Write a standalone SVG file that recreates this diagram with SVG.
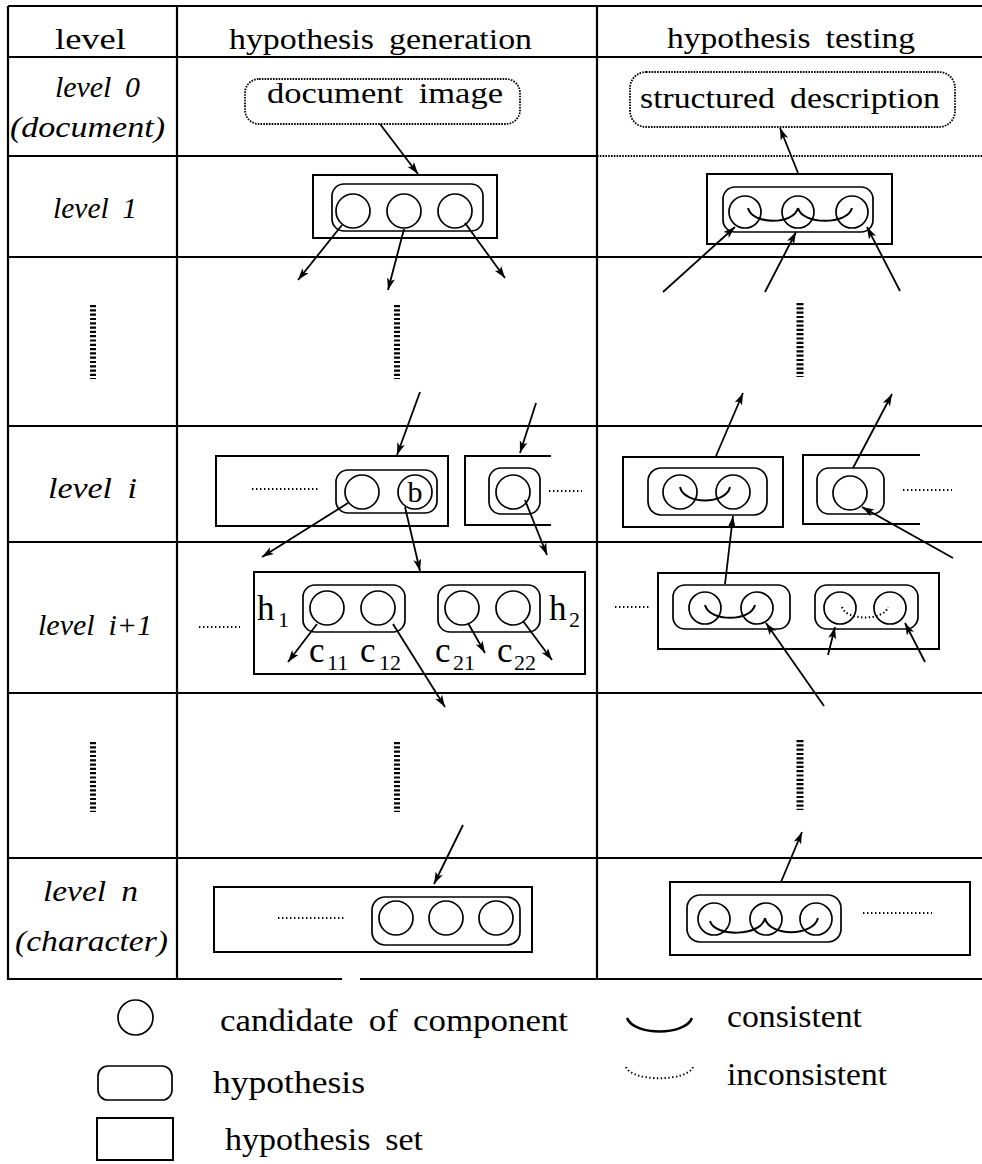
<svg xmlns="http://www.w3.org/2000/svg" width="982" height="1164" viewBox="0 0 982 1164">
  <defs>
    <marker id="ah" markerUnits="userSpaceOnUse" markerWidth="14" markerHeight="10" refX="12" refY="4" orient="auto">
      <path d="M0,0 L12,4 L0,8 L3,4 z" fill="#000"/>
    </marker>
    <style>
      .grid { stroke: #000; stroke-width: 2.2; fill: none; }
      .gridDot { stroke: #000; stroke-width: 2; stroke-dasharray: 1.6 1.2; fill: none; }
      .hset { stroke: #000; stroke-width: 2; fill: none; }
      .hyp { stroke: #000; stroke-width: 1.7; fill: none; }
      .cand { stroke: #000; stroke-width: 1.7; fill: none; }
      .io { stroke: #000; stroke-width: 1.8; stroke-dasharray: 1.6 1.2; fill: none; }
      .ok { stroke: #000; stroke-width: 2; fill: none; }
      .ng { stroke: #000; stroke-width: 2; stroke-dasharray: 1.4 2.4; fill: none; }
      .more { stroke: #000; stroke-width: 1.8; stroke-dasharray: 1.4 2.6; fill: none; }
      .vdots { stroke: #000; stroke-width: 6; stroke-dasharray: 2.2 2.1; fill: none; }
      .arr { stroke: #000; stroke-width: 1.8; fill: none; marker-end: url(#ah); }
    </style>
  </defs>

  <!-- table frame -->
  <g id="table">
    <line class="grid" x1="8" y1="6" x2="982" y2="6"/>
    <line class="grid" x1="8" y1="57" x2="982" y2="57"/>
    <line class="grid" x1="8" y1="156" x2="597" y2="156"/>
    <line class="gridDot" x1="597" y1="156" x2="982" y2="156"/>
    <line class="grid" x1="8" y1="257" x2="982" y2="257"/>
    <line class="grid" x1="8" y1="426" x2="982" y2="426"/>
    <line class="grid" x1="8" y1="542" x2="982" y2="542"/>
    <line class="grid" x1="8" y1="693" x2="982" y2="693"/>
    <line class="grid" x1="8" y1="858" x2="982" y2="858"/>
    <line class="grid" x1="8" y1="979" x2="342" y2="979"/>
    <line class="grid" x1="360" y1="979" x2="982" y2="979"/>
    <line class="grid" x1="8" y1="6" x2="8" y2="980"/>
    <line class="grid" x1="177" y1="6" x2="177" y2="980"/>
    <line class="grid" x1="597" y1="6" x2="597" y2="980"/>
  </g>

  <!-- column headings -->
  <g id="headings">
    <text x="55" y="49" font-family="Liberation Serif" font-size="30" textLength="71" lengthAdjust="spacingAndGlyphs">level</text>
    <text x="229" y="49" font-family="Liberation Serif" font-size="30" word-spacing="6" textLength="303" lengthAdjust="spacingAndGlyphs">hypothesis generation</text>
    <text x="667" y="48" font-family="Liberation Serif" font-size="30" word-spacing="6" textLength="248" lengthAdjust="spacingAndGlyphs">hypothesis testing</text>
  </g>

  <!-- level names -->
  <g id="level-names">
    <text x="55" y="97" font-family="Liberation Serif" font-size="29" font-style="italic" word-spacing="6" textLength="85" lengthAdjust="spacingAndGlyphs">level 0</text>
    <text x="10" y="137" font-family="Liberation Serif" font-size="29" font-style="italic" textLength="155" lengthAdjust="spacingAndGlyphs">(document)</text>
    <text x="53" y="218" font-family="Liberation Serif" font-size="29" font-style="italic" word-spacing="6" textLength="84" lengthAdjust="spacingAndGlyphs">level 1</text>
    <text x="48" y="498" font-family="Liberation Serif" font-size="29" font-style="italic" word-spacing="6" textLength="89" lengthAdjust="spacingAndGlyphs">level i</text>
    <text x="38" y="635" font-family="Liberation Serif" font-size="29" font-style="italic" word-spacing="6" textLength="114" lengthAdjust="spacingAndGlyphs">level i+1</text>
    <text x="43" y="901" font-family="Liberation Serif" font-size="29" font-style="italic" word-spacing="6" textLength="95" lengthAdjust="spacingAndGlyphs">level n</text>
    <text x="15" y="951" font-family="Liberation Serif" font-size="29" font-style="italic" textLength="153" lengthAdjust="spacingAndGlyphs">(character)</text>
  </g>

  <!-- level 0 -->
  <g id="document-image">
    <rect class="io" x="245" y="79" width="275" height="45" rx="14"/>
    <text x="267" y="103" font-family="Liberation Serif" font-size="30" word-spacing="6" textLength="236" lengthAdjust="spacingAndGlyphs">document image</text>
  </g>
  <g id="structured-description">
    <rect class="io" x="630" y="72" width="325" height="55" rx="16"/>
    <text x="640" y="108" font-family="Liberation Serif" font-size="30" word-spacing="6" textLength="300" lengthAdjust="spacingAndGlyphs">structured description</text>
  </g>

  <!-- intermediate levels -->
  <g id="ellipsis-rows">
    <line class="vdots" x1="93" y1="305" x2="93" y2="379"/>
    <line class="vdots" x1="397" y1="305" x2="397" y2="379"/>
    <line class="vdots" x1="800" y1="303" x2="800" y2="377" style="stroke-width:7"/>
    <line class="vdots" x1="93" y1="742" x2="93" y2="812"/>
    <line class="vdots" x1="397" y1="742" x2="397" y2="812"/>
    <line class="vdots" x1="800" y1="740" x2="800" y2="810" style="stroke-width:7"/>
  </g>

  <!-- level 1, generation -->
  <g id="gen-level1">
    <rect class="hset" x="313" y="175" width="184" height="63"/>
    <rect class="hyp" x="332" y="184" width="151" height="47" rx="12"/>
    <circle class="cand" cx="353" cy="211" r="17"/>
    <circle class="cand" cx="404" cy="211" r="17"/>
    <circle class="cand" cx="455" cy="211" r="17"/>
  </g>

  <!-- level 1, testing -->
  <g id="test-level1">
    <rect class="hset" x="707" y="174" width="185" height="70"/>
    <rect class="hyp" x="723" y="187" width="150" height="45" rx="12"/>
    <circle class="cand" cx="745" cy="212" r="16"/>
    <circle class="cand" cx="798" cy="212" r="16"/>
    <circle class="cand" cx="852" cy="212" r="16"/>
    <path class="ok" d="M748,208 C752,225 794,225 798,208"/>
    <path class="ok" d="M798,208 C802,225 848,225 852,208"/>
  </g>

  <!-- level i, generation -->
  <g id="gen-level-i-a">
    <rect class="hset" x="216" y="456" width="232" height="70"/>
    <line class="more" x1="252" y1="489" x2="318" y2="489"/>
    <rect class="hyp" x="336" y="470" width="101" height="43" rx="12"/>
    <circle class="cand" cx="362" cy="492" r="17"/>
    <circle class="cand" cx="415" cy="492" r="17"/>
    <text x="415" y="502" font-family="Liberation Serif" font-size="30" text-anchor="middle">b</text>
  </g>
  <g id="gen-level-i-b">
    <polyline class="hset" points="551,456 465,456 465,525 551,525"/>
    <rect class="hyp" x="489" y="468" width="51" height="46" rx="12"/>
    <circle class="cand" cx="513" cy="492" r="17"/>
    <line class="more" x1="549" y1="491" x2="582" y2="491"/>
  </g>

  <!-- level i, testing -->
  <g id="test-level-i-a">
    <rect class="hset" x="623" y="457" width="160" height="70"/>
    <rect class="hyp" x="648" y="468" width="119" height="47" rx="13"/>
    <circle class="cand" cx="680" cy="492" r="17"/>
    <circle class="cand" cx="733" cy="492" r="17"/>
    <path class="ok" d="M680,487 C684,505 726,505 730,487"/>
  </g>
  <g id="test-level-i-b">
    <polyline class="hset" points="920,455 803,455 803,524 920,524"/>
    <rect class="hyp" x="817" y="468" width="67" height="46" rx="12"/>
    <circle class="cand" cx="850" cy="493" r="17"/>
    <line class="more" x1="903" y1="490" x2="952" y2="490"/>
  </g>

  <!-- level i+1, generation -->
  <g id="gen-level-i1">
    <line class="more" x1="199" y1="627" x2="240" y2="627"/>
    <rect class="hset" x="254" y="572" width="331" height="102"/>
    <rect class="hyp" x="303" y="585" width="102" height="47" rx="12"/>
    <circle class="cand" cx="327" cy="608" r="17"/>
    <circle class="cand" cx="378" cy="608" r="17"/>
    <rect class="hyp" x="438" y="585" width="102" height="47" rx="12"/>
    <circle class="cand" cx="462" cy="608" r="17"/>
    <circle class="cand" cx="513" cy="608" r="17"/>
    <text x="257" y="620" font-family="Liberation Serif" font-size="35">h<tspan x="278" y="627" font-size="22">1</tspan></text>
    <text x="549" y="620" font-family="Liberation Serif" font-size="35">h<tspan x="569" y="627" font-size="22">2</tspan></text>
    <text x="309" y="662" font-family="Liberation Serif" font-size="35">c<tspan x="327" y="670" font-size="22">11</tspan></text>
    <text x="360" y="662" font-family="Liberation Serif" font-size="35">c<tspan x="379" y="670" font-size="22">12</tspan></text>
    <text x="435" y="662" font-family="Liberation Serif" font-size="35">c<tspan x="453" y="670" font-size="22">21</tspan></text>
    <text x="497" y="662" font-family="Liberation Serif" font-size="35">c<tspan x="514" y="670" font-size="22">22</tspan></text>
  </g>

  <!-- level i+1, testing -->
  <g id="test-level-i1">
    <line class="more" x1="615" y1="607" x2="649" y2="607"/>
    <rect class="hset" x="658" y="573" width="281" height="76"/>
    <rect class="hyp" x="673" y="585" width="117" height="44" rx="12"/>
    <circle class="cand" cx="705" cy="608" r="16"/>
    <circle class="cand" cx="757" cy="608" r="16"/>
    <path class="ok" d="M705,605 C709,622 751,622 755,605"/>
    <rect class="hyp" x="815" y="585" width="103" height="44" rx="12"/>
    <circle class="cand" cx="840" cy="608" r="16"/>
    <circle class="cand" cx="890" cy="608" r="16"/>
    <path class="ng" d="M842,607 C846,621 884,621 888,607"/>
  </g>

  <!-- level n, generation -->
  <g id="gen-level-n">
    <rect class="hset" x="214" y="887" width="318" height="65"/>
    <line class="more" x1="278" y1="918" x2="346" y2="918"/>
    <rect class="hyp" x="372" y="897" width="148" height="48" rx="13"/>
    <circle class="cand" cx="396" cy="918" r="17"/>
    <circle class="cand" cx="446" cy="918" r="17"/>
    <circle class="cand" cx="496" cy="918" r="17"/>
  </g>

  <!-- level n, testing -->
  <g id="test-level-n">
    <rect class="hset" x="670" y="882" width="300" height="73"/>
    <rect class="hyp" x="687" y="895" width="154" height="47" rx="13"/>
    <circle class="cand" cx="714" cy="919" r="16"/>
    <circle class="cand" cx="766" cy="919" r="16"/>
    <circle class="cand" cx="816" cy="919" r="16"/>
    <path class="ok" d="M710,921 C714,937 761,937 765,918"/>
    <path class="ok" d="M765,918 C769,937 813,937 818,918"/>
    <line class="more" x1="863" y1="913" x2="932" y2="913"/>
  </g>

  <!-- connectors -->
  <g id="connectors">
    <line class="arr" x1="380" y1="124" x2="418" y2="174"/>
    <line class="arr" x1="798" y1="173" x2="780" y2="128"/>
    <line class="arr" x1="342" y1="225" x2="298" y2="280"/>
    <line class="arr" x1="404" y1="229" x2="388" y2="290"/>
    <line class="arr" x1="465" y1="223" x2="505" y2="278"/>
    <line class="arr" x1="663" y1="292" x2="735" y2="227"/>
    <line class="arr" x1="765" y1="292" x2="796" y2="232"/>
    <line class="arr" x1="900" y1="291" x2="867" y2="227"/>
    <line class="arr" x1="420" y1="392" x2="397" y2="455"/>
    <line class="arr" x1="536" y1="403" x2="520" y2="453"/>
    <line class="arr" x1="716" y1="456" x2="743" y2="393"/>
    <line class="arr" x1="853" y1="468" x2="892" y2="394"/>
    <line class="arr" x1="348" y1="503" x2="262" y2="557"/>
    <line class="arr" x1="405" y1="507" x2="420" y2="571"/>
    <line class="arr" x1="525" y1="500" x2="547" y2="555"/>
    <line class="arr" x1="953" y1="558" x2="862" y2="507"/>
    <line class="arr" x1="725" y1="584" x2="733" y2="516"/>
    <line class="arr" x1="317" y1="624" x2="288" y2="662"/>
    <line class="arr" x1="393" y1="624" x2="445" y2="707"/>
    <line class="arr" x1="468" y1="623" x2="485" y2="653"/>
    <line class="arr" x1="523" y1="621" x2="552" y2="660"/>
    <line class="arr" x1="824" y1="706" x2="766" y2="623"/>
    <line class="arr" x1="828" y1="655" x2="835" y2="627"/>
    <line class="arr" x1="925" y1="662" x2="905" y2="623"/>
    <line class="arr" x1="463" y1="825" x2="434" y2="884"/>
    <line class="arr" x1="781" y1="882" x2="802" y2="832"/>
  </g>

  <!-- key -->
  <g id="legend-candidate">
    <circle class="cand" cx="135.5" cy="1017.5" r="17.5"/>
    <text x="220" y="1031" font-family="Liberation Serif" font-size="32" word-spacing="6" textLength="348" lengthAdjust="spacingAndGlyphs">candidate of component</text>
  </g>
  <g id="legend-hypothesis">
    <rect class="hyp" x="98" y="1066" width="74" height="34" rx="10"/>
    <text x="213" y="1093" font-family="Liberation Serif" font-size="32" textLength="152" lengthAdjust="spacingAndGlyphs">hypothesis</text>
  </g>
  <g id="legend-hypothesis-set">
    <rect class="hset" x="97" y="1118" width="76" height="42"/>
    <text x="225" y="1150" font-family="Liberation Serif" font-size="32" word-spacing="6" textLength="198" lengthAdjust="spacingAndGlyphs">hypothesis set</text>
  </g>
  <g id="legend-consistent">
    <path d="M627,1018 C634,1036 685,1036 692,1018" stroke="#000" stroke-width="2.6" fill="none"/>
    <text x="727" y="1027" font-family="Liberation Serif" font-size="32" textLength="135" lengthAdjust="spacingAndGlyphs">consistent</text>
  </g>
  <g id="legend-inconsistent">
    <path class="ng" d="M626,1067 C632,1082 687,1082 693,1067"/>
    <text x="727" y="1085" font-family="Liberation Serif" font-size="32" textLength="160" lengthAdjust="spacingAndGlyphs">inconsistent</text>
  </g>
</svg>
